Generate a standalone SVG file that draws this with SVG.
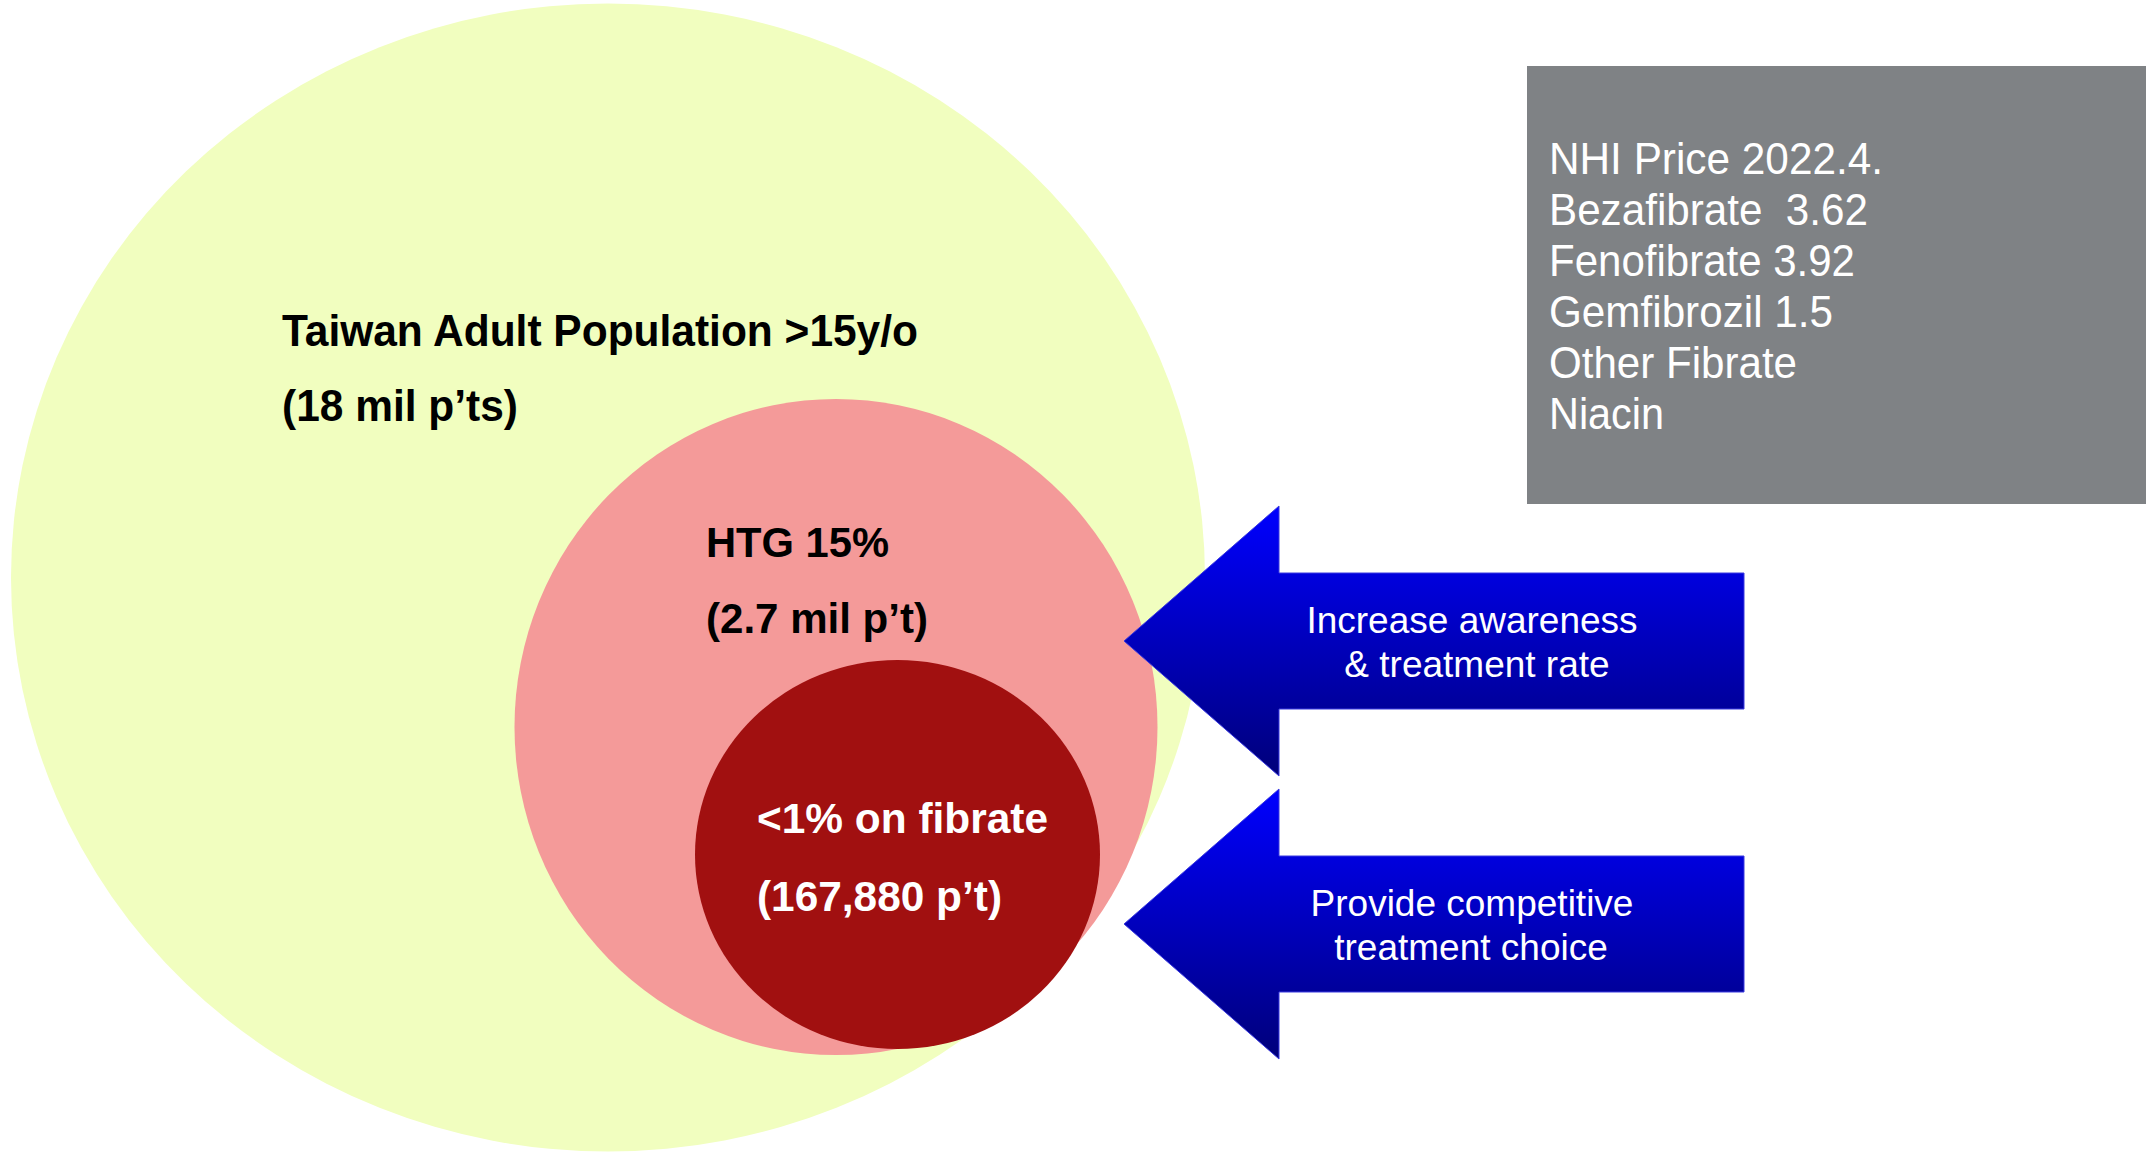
<svg xmlns="http://www.w3.org/2000/svg" width="2146" height="1153" viewBox="0 0 2146 1153">
<defs>
<linearGradient id="blueGrad" x1="0" y1="0" x2="0" y2="1">
<stop offset="0" stop-color="#0000FF"/>
<stop offset="1" stop-color="#00007A"/>
</linearGradient>
<style>
.t{font-family:"Liberation Sans",Arial,sans-serif}
.b{font-weight:bold}
.blk{fill:#000000}
.wht{fill:#FFFFFF}
.lbl{font-size:45px}
.inner{font-size:43px}
.arrowtxt{font-size:37px;text-anchor:middle}
.price{font-size:45px}
.arrow{fill:url(#blueGrad);stroke:#3a3ae0;stroke-width:1}
</style>
</defs>
<rect x="0" y="0" width="2146" height="1153" fill="#FFFFFF"/>
<g id="node-adult-population">
<ellipse cx="608" cy="577.5" rx="597" ry="574" fill="#F1FEBF"/>
<text class="t b blk lbl" x="282" y="346" textLength="636" lengthAdjust="spacingAndGlyphs">Taiwan Adult Population &gt;15y/o</text>
<text class="t b blk lbl" x="282" y="421" textLength="236" lengthAdjust="spacingAndGlyphs">(18 mil p’ts)</text>
</g>
<g id="node-htg">
<ellipse cx="836" cy="727" rx="321.5" ry="328" fill="#F49A99"/>
<text class="t b blk inner" x="706" y="557" textLength="183" lengthAdjust="spacingAndGlyphs">HTG 15%</text>
<text class="t b blk inner" x="706" y="633" textLength="222" lengthAdjust="spacingAndGlyphs">(2.7 mil p’t)</text>
</g>
<g id="node-fibrate">
<ellipse cx="897.5" cy="854.5" rx="202.5" ry="194.5" fill="#A11010"/>
<text class="t b wht inner" x="757" y="833" textLength="291" lengthAdjust="spacingAndGlyphs">&lt;1% on fibrate</text>
<text class="t b wht inner" x="757" y="911" textLength="245" lengthAdjust="spacingAndGlyphs">(167,880 p’t)</text>
</g>
<g id="node-price-box">
<rect x="1527" y="66" width="619" height="438" fill="#7F8285"/>
<text class="t wht price" x="1549" y="174" textLength="334" lengthAdjust="spacingAndGlyphs">NHI Price 2022.4.</text>
<text class="t wht price" x="1549" y="225" xml:space="preserve" textLength="319" lengthAdjust="spacingAndGlyphs">Bezafibrate  3.62</text>
<text class="t wht price" x="1549" y="276" textLength="306" lengthAdjust="spacingAndGlyphs">Fenofibrate 3.92</text>
<text class="t wht price" x="1549" y="327" textLength="284" lengthAdjust="spacingAndGlyphs">Gemfibrozil 1.5</text>
<text class="t wht price" x="1549" y="378" textLength="248" lengthAdjust="spacingAndGlyphs">Other Fibrate</text>
<text class="t wht price" x="1549" y="429" textLength="115" lengthAdjust="spacingAndGlyphs">Niacin</text>
</g>
<g id="connectors">
<g id="arrow-awareness">
<polygon class="arrow" points="1124,641 1279,506 1279,573 1744,573 1744,709 1279,709 1279,776"/>
<text class="t wht arrowtxt" x="1472" y="633">Increase awareness</text>
<text class="t wht arrowtxt" x="1477" y="677">&amp; treatment rate</text>
</g>
<g id="arrow-choice">
<polygon class="arrow" points="1124,924 1279,789 1279,856 1744,856 1744,992 1279,992 1279,1059"/>
<text class="t wht arrowtxt" x="1472" y="916">Provide competitive</text>
<text class="t wht arrowtxt" x="1471" y="960">treatment choice</text>
</g>
</g>
</svg>
